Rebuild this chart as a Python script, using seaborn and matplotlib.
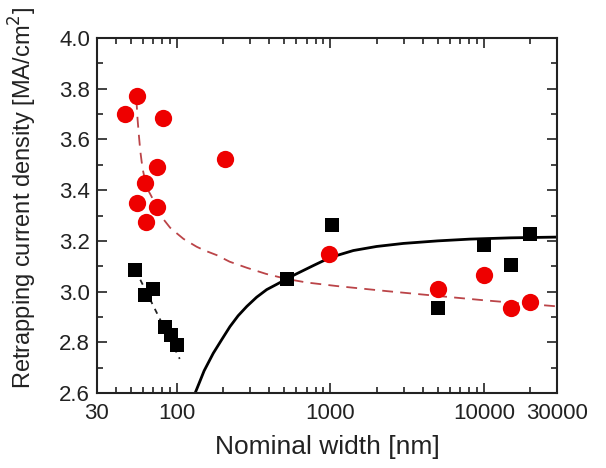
import matplotlib
matplotlib.use("Agg")
import matplotlib.pyplot as plt
import matplotlib.ticker as mticker
import seaborn as sns
import pandas as pd

# ---- data ----
red_x = [46, 55, 81, 205, 73.5, 62, 54.5, 73.5, 62.5, 980, 5000, 10000, 15000, 20000]
red_y = [3.70, 3.77, 3.685, 3.523, 3.49, 3.43, 3.35, 3.335, 3.275, 3.15, 3.01, 3.065, 2.935, 2.958]

black_x = [53.5, 61.5, 70, 83, 91, 100, 518, 1020, 5000, 10000, 15000, 20000]
black_y = [3.085, 2.985, 3.01, 2.86, 2.83, 2.79, 3.05, 3.262, 2.935, 3.185, 3.105, 3.228]

# red dashed fit curve
red_fit_x = [54.2, 55.2, 56.4, 57.5, 58.7, 60, 61.7, 64, 68.2, 74, 81.5, 90, 99.4, 110, 134,
             150, 181, 220, 285, 380, 518, 700, 1100, 2330, 5000, 10000, 15000, 30000]
red_fit_y = [3.76, 3.68, 3.611, 3.555, 3.512, 3.475, 3.44, 3.405, 3.374, 3.325, 3.285, 3.252, 3.23,
             3.208, 3.177, 3.163, 3.144, 3.118, 3.094, 3.07, 3.05, 3.036, 3.022, 3.002, 2.983,
             2.966, 2.957, 2.942]

# black solid fit curve
black_fit_x = [131, 140, 150, 172, 195, 221, 250, 285, 330, 384, 450, 518, 600, 775, 1000,
               1411, 2000, 2990, 5000, 8130, 15000, 30000]
black_fit_y = [2.60, 2.643, 2.688, 2.757, 2.81, 2.862, 2.905, 2.942, 2.978, 3.008, 3.03, 3.05,
               3.07, 3.103, 3.135, 3.162, 3.178, 3.19, 3.2, 3.207, 3.212, 3.215]

# black dashed short line
black_dash_x = [53.5, 104]
black_dash_y = [3.085, 2.735]

x_ticks = [30, 100, 1000, 10000, 30000]
x_tick_labels = ["30", "100", "1000", "10000", "30000"]
y_ticks = [2.6, 2.8, 3.0, 3.2, 3.4, 3.6, 3.8, 4.0]

# ---- style ----
sns.set_style("ticks")
plt.rcParams["font.family"] = ["Liberation Sans", "DejaVu Sans"]

fig = plt.figure(figsize=(6.06, 4.68), dpi=100)
ax = fig.add_axes([0.160, 0.160, 0.759, 0.759])

df_red_fit = pd.DataFrame({"x": red_fit_x, "y": red_fit_y})
df_black_fit = pd.DataFrame({"x": black_fit_x, "y": black_fit_y})
df_black_dash = pd.DataFrame({"x": black_dash_x, "y": black_dash_y})
df_red = pd.DataFrame({"x": red_x, "y": red_y})
df_black = pd.DataFrame({"x": black_x, "y": black_y})

sns.lineplot(data=df_red_fit, x="x", y="y", ax=ax, color="#bb4448", lw=1.3,
             linestyle=(0, (6, 4)), sort=False, zorder=2)
sns.lineplot(data=df_black_fit, x="x", y="y", ax=ax, color="black", lw=2.0,
             sort=False, zorder=2)
sns.lineplot(data=df_black_dash, x="x", y="y", ax=ax, color="#222222", lw=1.3,
             linestyle=(0, (3, 3)), sort=False, zorder=2)
sns.scatterplot(data=df_black, x="x", y="y", ax=ax, marker="s", s=100, color="black",
                edgecolor="black", linewidth=0, zorder=3)
sns.scatterplot(data=df_red, x="x", y="y", ax=ax, marker="o", s=155, color="#ee0000",
                edgecolor="#ee0000", linewidth=0, zorder=4)

ax.set_xscale("log")
ax.set_xlim(30, 30000)
ax.set_ylim(2.6, 4.0)
ax.set_xticks(x_ticks)
ax.set_xticklabels(x_tick_labels)
ax.xaxis.set_minor_locator(mticker.LogLocator(base=10, subs=range(2, 10), numticks=20))
ax.xaxis.set_minor_formatter(mticker.NullFormatter())
ax.set_yticks(y_ticks)
ax.set_yticklabels([f"{v:.1f}" for v in y_ticks])
ax.yaxis.set_minor_locator(mticker.MultipleLocator(0.1))

ax.tick_params(which="both", direction="in", top=True, right=True, colors="#222222",
               labelcolor="#222222", labelsize=16, width=1.2)
ax.tick_params(which="major", length=7)
ax.tick_params(axis="x", which="major", pad=7)
ax.tick_params(axis="y", which="major", pad=5)
ax.tick_params(which="minor", length=4)
for sp in ax.spines.values():
    sp.set_linewidth(1.5)
    sp.set_color("#222222")
    sp.set_visible(True)

ax.set_xlabel("Nominal width [nm]", fontsize=19, color="#222222", labelpad=8)
ax.set_ylabel("Retrapping current density [MA/cm$^2$]", fontsize=17, color="#222222")
ax.yaxis.set_label_coords(-0.125, 0.55)

fig.savefig("out.png", dpi=100)
